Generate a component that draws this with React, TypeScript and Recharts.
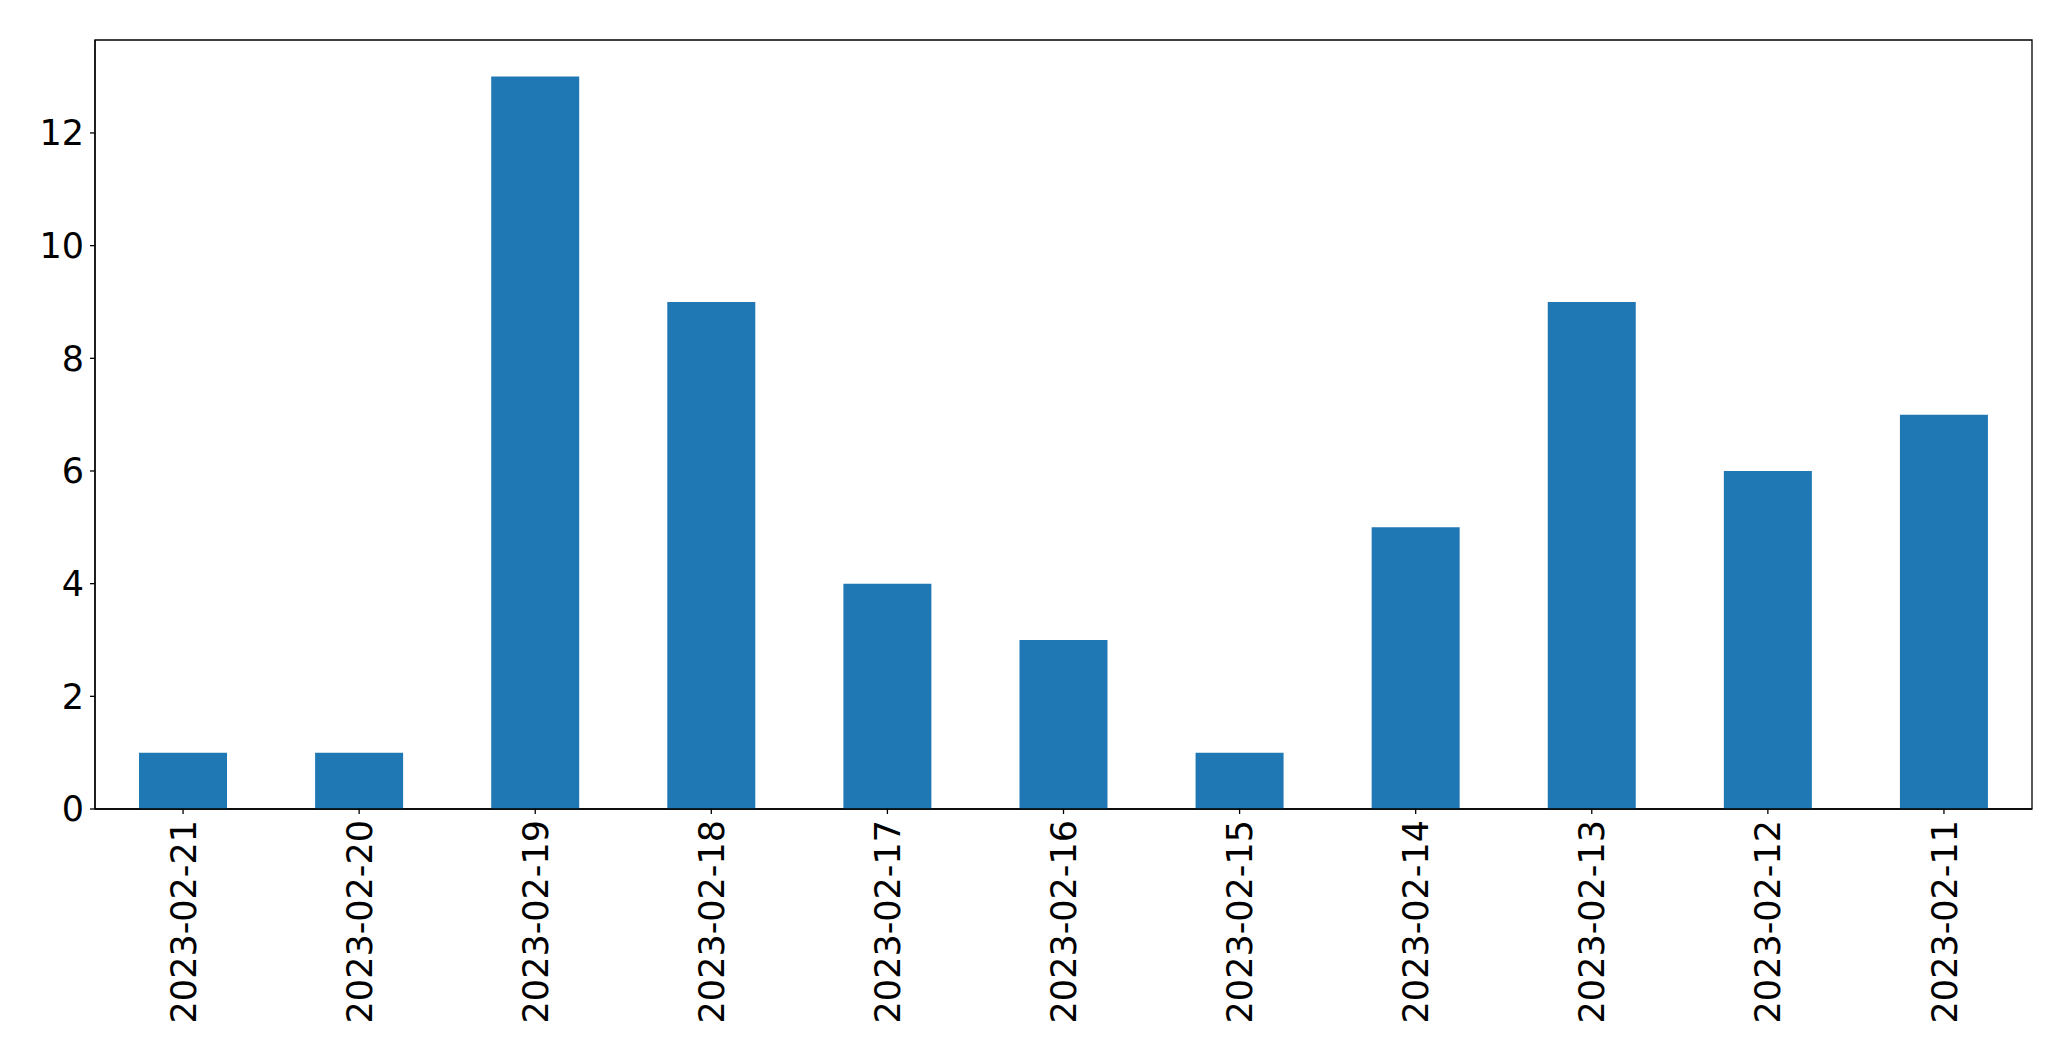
import { BarChart, Bar, XAxis, YAxis, ReferenceArea } from 'recharts';

const DATES = [
  '2023-02-21', '2023-02-20', '2023-02-19', '2023-02-18', '2023-02-17', '2023-02-16',
  '2023-02-15', '2023-02-14', '2023-02-13', '2023-02-12', '2023-02-11',
];
const COUNTS = [1, 1, 13, 9, 4, 3, 1, 5, 9, 6, 7];
const Y_TICKS = [0, 2, 4, 6, 8, 10, 12];
const Y_MAX = 13.65;

const data = DATES.map((date, i) => ({ date, count: COUNTS[i] }));

const FONT = "'DejaVu Sans', sans-serif";
const BLUE = '#1f77b4';

function DateTick({ x, y, payload }: any) {
  return (
    <g transform={`translate(${x},${y})`}>
      <text
        transform="rotate(-90)"
        textAnchor="end"
        dy="0.36em"
        fontFamily={FONT}
        fontSize={35}
        fill="#000"
      >
        {payload.value}
      </text>
    </g>
  );
}

export default function App() {
  return (
    <div style={{ position: 'absolute', left: 0, top: 0, background: '#fff' }}>
      <BarChart
        width={2071}
        height={1061}
        data={data}
        margin={{ top: 40, right: 39, left: 0, bottom: 0 }}
        barCategoryGap="25%"
      >
        <XAxis
          dataKey="date"
          height={252}
          interval={0}
          tickSize={5}
          tickMargin={6}
          axisLine={{ stroke: '#000', strokeWidth: 1.3 }}
          tickLine={{ stroke: '#000', strokeWidth: 1.3 }}
          tick={<DateTick />}
        />
        <YAxis
          width={95}
          domain={[0, Y_MAX]}
          ticks={Y_TICKS}
          interval={0}
          tickSize={5}
          tickMargin={6}
          axisLine={{ stroke: '#000', strokeWidth: 1.3 }}
          tickLine={{ stroke: '#000', strokeWidth: 1.3 }}
          tick={{ fontFamily: FONT, fontSize: 35, fill: '#000', dy: '0.42em' }}
        />
        <Bar dataKey="count" fill={BLUE} isAnimationActive={false} />
        <ReferenceArea y1={0} y2={Y_MAX} fill="none" stroke="#000" strokeWidth={1.3} />
      </BarChart>
    </div>
  );
}
